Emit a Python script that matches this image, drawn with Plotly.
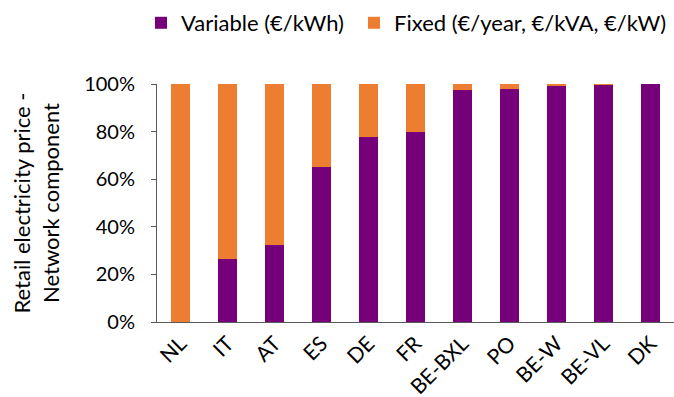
import plotly.graph_objects as go

# Network component of the retail electricity price, split by tariff type
countries = ["NL", "IT", "AT", "ES", "DE", "FR", "BE-BXL", "PO", "BE-W", "BE-VL", "DK"]
variable_share = [0.0, 0.265, 0.325, 0.653, 0.778, 0.798, 0.976, 0.980, 0.994, 0.998, 1.0]
fixed_share = [1.0 - v for v in variable_share]

purple = "#76007A"
orange = "#ED7D31"
font_family = "Lato, 'Open Sans', sans-serif"
W, H = 674, 397

fig = go.Figure()
fig.add_trace(go.Bar(
    x=countries, y=variable_share, name="Variable (€/kWh)",
    marker=dict(color=purple, line=dict(width=0)), width=0.4,
    legend="legend",
))
fig.add_trace(go.Bar(
    x=countries, y=fixed_share, name="Fixed (€/year, €/kVA, €/kW)",
    marker=dict(color=orange, line=dict(width=0)), width=0.4,
    legend="legend2",
))

legend_common = dict(
    orientation="h", yref="container", xref="container",
    xanchor="left", y=0.995, yanchor="top",
    font=dict(size=22), itemwidth=30, bgcolor="rgba(0,0,0,0)",
)

fig.update_layout(
    barmode="stack",
    width=W, height=H,
    margin=dict(l=157, r=0, t=84, b=75),
    paper_bgcolor="white", plot_bgcolor="white",
    font=dict(family=font_family, size=19, color="#000000"),
    showlegend=True,
    legend=dict(x=141 / W, **legend_common),
    legend2=dict(x=354 / W, **legend_common),
)

fig.update_yaxes(
    range=[0, 1], tickvals=[0, 0.2, 0.4, 0.6, 0.8, 1.0], tickformat=".0%",
    showgrid=False, zeroline=False,
    showline=True, linecolor="#595959", linewidth=1,
    ticks="outside", ticklen=5, tickcolor="#595959",
    ticklabelstandoff=12,
    tickfont=dict(size=20),
    title=dict(text="Retail electricity price -<br>Network component",
               font=dict(size=22), standoff=18),
    automargin=False,
)
fig.update_xaxes(
    showgrid=False, zeroline=False,
    showline=True, linecolor="#595959", linewidth=1,
    ticks="", tickangle=-45, tickfont=dict(size=21),
    automargin=False,
)

fig.write_html("out.html")
